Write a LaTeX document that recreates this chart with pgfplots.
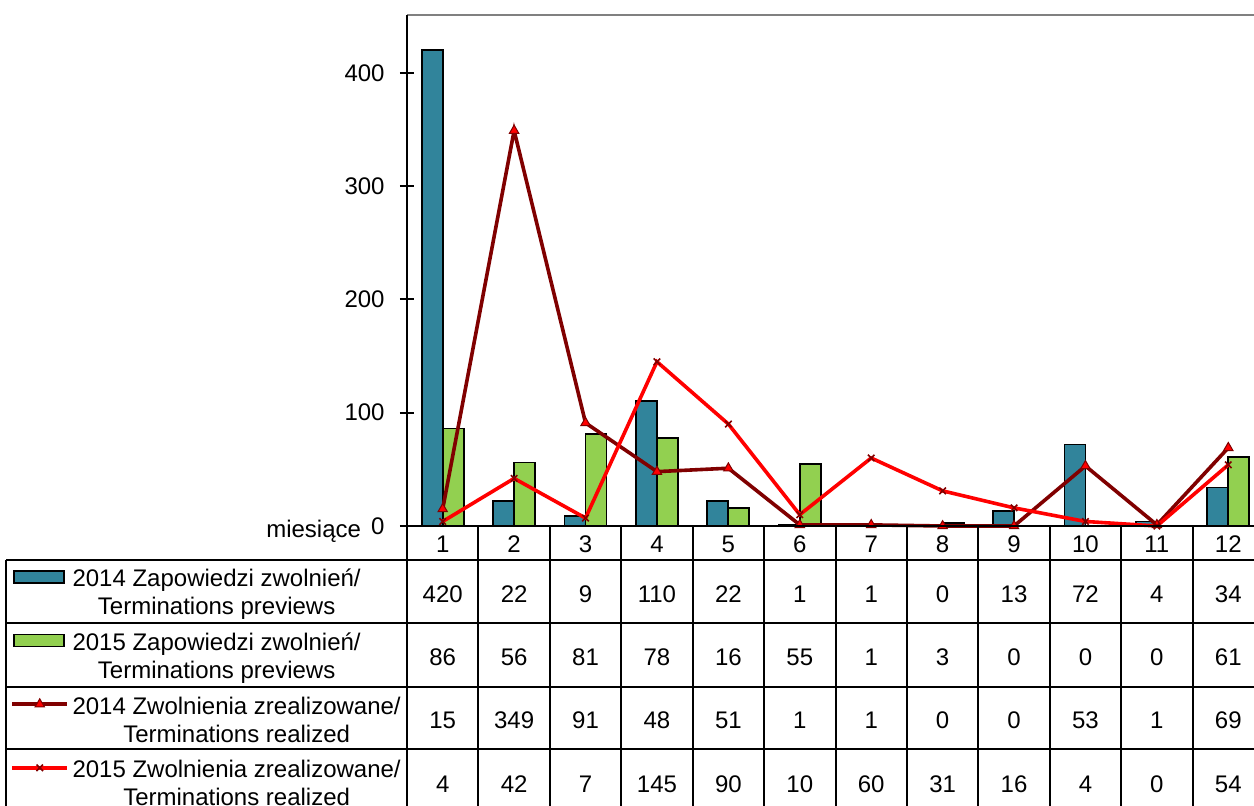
\documentclass[border=0pt]{standalone}
\usepackage{pgfplots}
\pgfplotsset{compat=1.18}
\usepackage{fontspec}
\setmainfont{Liberation Sans}
\definecolor{c14}{HTML}{31849B}
\definecolor{c15}{HTML}{92D050}
\definecolor{r14}{HTML}{800000}
\definecolor{r15}{HTML}{FF0000}
\newcommand{\tabfont}{\fontsize{12}{14}\selectfont}
\pgfplotsset{
  barkey/.style={legend image code/.code={\draw[##1] (0pt,2pt) rectangle (25pt,8pt);}},
  linekey/.style={legend image code/.code={\draw[mark repeat=2,mark phase=2,##1] plot coordinates {(-1pt,5pt) (12.75pt,5pt) (26.5pt,5pt)};}},
}
\begin{document}
\begin{tikzpicture}[font=\tabfont]
\path[use as bounding box] (0,0) rectangle (627pt,402.5pt);
\begin{scope}
\clip (0,0) rectangle (627pt,402.5pt);
\begin{axis}[
  at={(203.5pt,139.5pt)}, anchor=south west, scale only axis,
  width=428.5pt, height=255.5pt,
  xmin=0.5, xmax=12.5, ymin=0, ymax=451,
  axis x line=none, axis y line*=left,
  y axis line style={line width=1pt, -},
  ytick={0,100,200,300,400},
  tick align=center, major tick length=7pt,
  ytick style={black, line width=0.9pt},
  yticklabel style={font=\tabfont, inner sep=0pt, xshift=-7.5pt},
  /pgf/number format/assume math mode=true,
  clip=false,
  legend cell align=left,
  legend style={at={(-0.4627,-0.0810)}, anchor=north west, draw=none, fill=none,
    inner sep=0pt, outer sep=0pt, row sep=20.5pt, column sep=1.75pt,
    font=\tabfont, nodes={inner sep=0pt, anchor=base west}},
]
\addplot[ybar, bar width=10.5pt, bar shift=-5.25pt, fill=c14, draw=black, line width=0.9pt, barkey]
  coordinates {(1,420) (2,22) (3,9) (4,110) (5,22) (6,1) (7,1) (8,0) (9,13) (10,72) (11,4) (12,34)};
\addlegendentry{\begin{tabular}[t]{@{}c@{}}2014 Zapowiedzi zwolnień/\\Terminations previews\end{tabular}}
\addplot[ybar, bar width=10.5pt, bar shift=5.25pt, fill=c15, draw=black, line width=0.9pt, barkey]
  coordinates {(1,86) (2,56) (3,81) (4,78) (5,16) (6,55) (7,1) (8,3) (9,0) (10,0) (11,0) (12,61)};
\addlegendentry{\begin{tabular}[t]{@{}c@{}}2015 Zapowiedzi zwolnień/\\Terminations previews\end{tabular}}
\addplot[color=r14, line width=1.8pt, mark=triangle*, mark size=2.7pt,
  mark options={fill=r15, draw=r14, line width=0.5pt}, linekey]
  coordinates {(1,15) (2,349) (3,91) (4,48) (5,51) (6,1) (7,1) (8,0) (9,0) (10,53) (11,1) (12,69)};
\addlegendentry{\begin{tabular}[t]{@{}c@{}}2014 Zwolnienia zrealizowane/\\Terminations realized\end{tabular}}
\addplot[color=r15, line width=1.8pt, mark=x, mark size=2.3pt,
  mark options={draw=r14, line width=0.8pt}, linekey]
  coordinates {(1,4) (2,42) (3,7) (4,145) (5,90) (6,10) (7,60) (8,31) (9,16) (10,4) (11,0) (12,54)};
\addlegendentry{\begin{tabular}[t]{@{}c@{}}2015 Zwolnienia zrealizowane/\\Terminations realized\end{tabular}}
\end{axis}
\begin{scope}[x=0.5pt,y=0.5pt,line width=1pt]
  \draw[gray] (407,790) -- (1280,790);
  \draw (407,790) -- (407,-10);
  \draw (407,279) -- (1280,279);
  \foreach \k in {1,...,12} \draw ({407+\k*71.4167},279) -- ({407+\k*71.4167},-10);
  \foreach \y in {245,182,118,56} \draw (6,\y) -- (1280,\y);
  \draw (6,245) -- (6,-10);
  \node[anchor=base east, inner sep=0pt] at (362,268) {miesiące};
  \foreach \i in {1,...,12} \node at ({407+(\i-0.5)*71.4167},261) {\i};
  \foreach \v [count=\i] in {420,22,9,110,22,1,1,0,13,72,4,34}
    \node at ({407+(\i-0.5)*71.4167},210.5) {\v};
  \foreach \v [count=\i] in {86,56,81,78,16,55,1,3,0,0,0,61}
    \node at ({407+(\i-0.5)*71.4167},147.5) {\v};
  \foreach \v [count=\i] in {15,349,91,48,51,1,1,0,0,53,1,69}
    \node at ({407+(\i-0.5)*71.4167},84.5) {\v};
  \foreach \v [count=\i] in {4,42,7,145,90,10,60,31,16,4,0,54}
    \node at ({407+(\i-0.5)*71.4167},20.7) {\v};
\end{scope}
\end{scope}
\end{tikzpicture}
\end{document}
